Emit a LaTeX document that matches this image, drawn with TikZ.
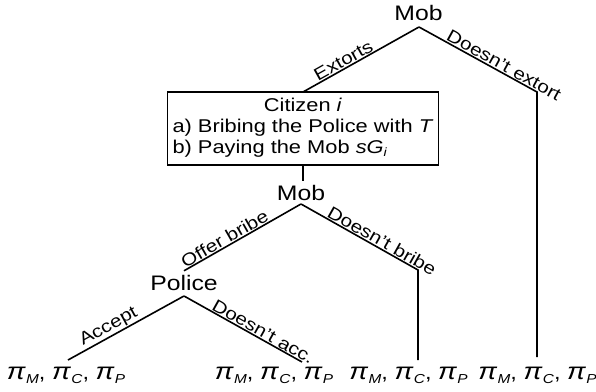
\documentclass[tikz,border=0pt]{standalone}
\usepackage{fontspec}
\setmainfont{Liberation Sans}[FakeStretch=1.18]
\newcommand\payel[1]{{\fontsize{23.5}{26}\selectfont\textit{π}}\kern0.3pt\raisebox{-4pt}{\fontsize{13}{13}\selectfont\textit{#1}}}
\newcommand\payoffs{\payel{M}, \payel{C}, \payel{P}}
\begin{document}
\begin{tikzpicture}[x=1pt,y=1pt,
  every node/.style={inner sep=0pt, outer sep=0pt},
  edge/.style={draw=black, line width=1.6pt},
  lbl/.style={font=\fontsize{17.5}{20}\selectfont, sloped, anchor=south, inner sep=1.5pt},
  player/.style={font=\fontsize{21}{24}\selectfont, anchor=base, outer sep=4pt},
  infobox/.style={draw, line width=1.6pt, minimum width=271pt, minimum height=73pt, inner sep=3pt, font=\fontsize{18.5}{21}\selectfont},
  pay/.style={font=\fontsize{20}{24}\selectfont, anchor=base}]
\useasboundingbox (0,0) rectangle (596,-391);
% decision nodes
\node[player] (mobA) at (418.5,-20) {Mob};
\coordinate (mA) at (419,-27);
\node[infobox] (box) at (303,-128.5) {\begin{tabular}{@{}l@{}}\multicolumn{1}{@{}c@{}}{Citizen \textit{i}}\\ a) Bribing the Police with \textit{T}\\ b) Paying the Mob \textit{sG}\raisebox{-3pt}{\fontsize{12}{12}\selectfont\textit{i}}\end{tabular}};
\node[player] (mobB) at (301,-200) {Mob};
\coordinate (mB) at (301,-204);
\node[player] (police) at (184,-290) {Police};
\coordinate (pC) at (184,-296);
% leaf points
\coordinate (eA) at (537,-92);
\coordinate (eAend) at (537,-357);
\coordinate (bB) at (418,-270);
\coordinate (bBend) at (418,-360);
\coordinate (acc) at (68,-360);
\coordinate (rej) at (302,-362);
% payoffs
\node[pay] (pay1) at (66,-379) {\payoffs};
\node[pay] (pay2) at (274,-379) {\payoffs};
\node[pay] (pay3) at (408.5,-379) {\payoffs};
\node[pay] (pay4) at (537.5,-379) {\payoffs};
% connectors
\draw[edge] (mA) -- node[lbl, pos=0.62] {Extorts} (box.north);
\draw[edge] (mA) -- node[lbl, pos=0.69] {Doesn't extort} (eA) -- (eAend);
\draw[edge] (box.south) -- (box.south |- mobB.north);
\draw[edge] (mB) -- node[lbl, pos=0.62] {Offer bribe} (police.north);
\draw[edge] (mB) -- node[lbl, pos=0.66] {Doesn't bribe} (bB) -- (bBend);
\draw[edge] (pC) -- node[lbl, pos=0.61] {Accept} (acc);
\draw[edge] (pC) -- node[lbl, pos=0.64] {Doesn't acc.} (rej);
\end{tikzpicture}
\end{document}
